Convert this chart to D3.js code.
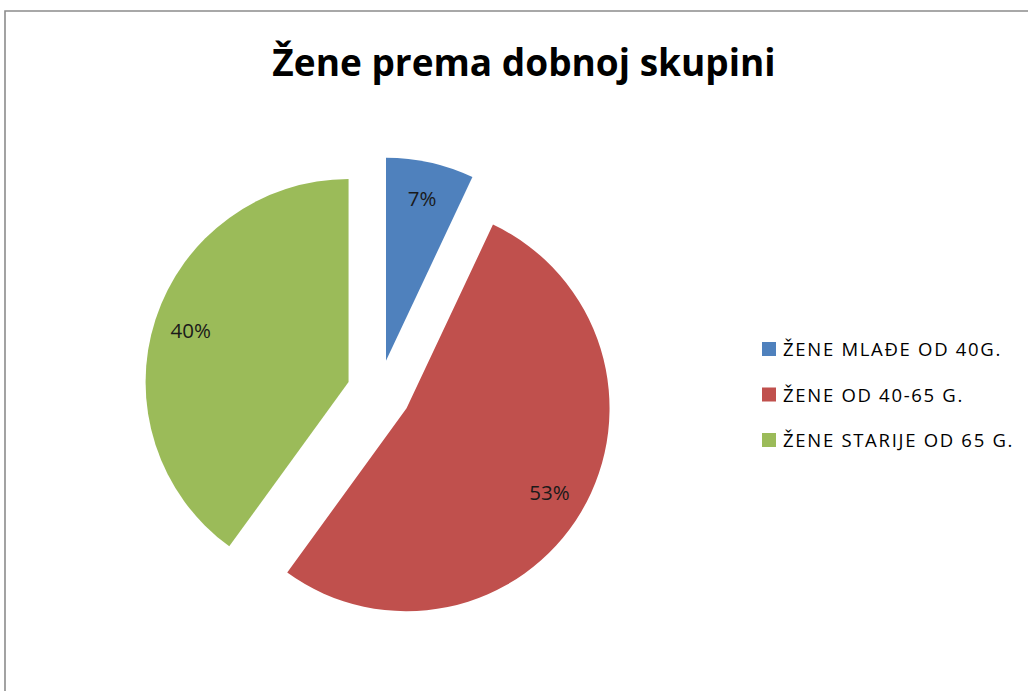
<!DOCTYPE html>
<html><head><meta charset="utf-8">
<script src="https://cdn.jsdelivr.net/npm/d3@7"></script>
<style>html,body{margin:0;padding:0;background:#fff;}svg{display:block;}</style>
</head><body>
<svg id="chart" width="1028" height="691"></svg>
<script>
const title = "Žene prema dobnoj skupini";
const categories = ["ŽENE MLAĐE OD 40G.", "ŽENE OD 40-65 G.", "ŽENE STARIJE OD 65 G."];
const values = [7, 53, 40];
const labels = ["7%", "53%", "40%"];
const colors = ["#4F81BD", "#C0504D", "#9BBB59"];

const FONT = "'Open Sans', Lato, sans-serif";
const svg = d3.select("#chart");
// frame
svg.append("path").attr("d","M5,691 V11 H1028").attr("fill","none").attr("stroke","#8c8c8c").attr("stroke-width",1.6);

svg.append("text").attr("x",524).attr("y",76).attr("text-anchor","middle")
  .attr("font-family",FONT).attr("font-weight","bold").attr("font-size",37)
  .attr("fill","#000").text(title);

const cx = 379, cy = 392, r = 203, explode = 32;
const pie = d3.pie().sort(null).value(d=>d);
const arcs = pie(values);
const arc = d3.arc().innerRadius(0).outerRadius(r);
const labelArc = d3.arc().innerRadius(166).outerRadius(166);
const g = svg.append("g").attr("transform",`translate(${cx},${cy})`);
const slices = g.selectAll("g.slice").data(arcs).enter().append("g")
  .attr("transform", d => {
    const a = (d.startAngle + d.endAngle)/2;
    return `translate(${explode*Math.sin(a)},${-explode*Math.cos(a)})`;
  });
slices.append("path").attr("d",arc).attr("fill",(d,i)=>colors[i]);
slices.append("text").attr("transform",d=>`translate(${labelArc.centroid(d)})`)
  .attr("text-anchor","middle").attr("dy","0.36em")
  .attr("font-family",FONT).attr("font-size",20.5).attr("fill","#1a1a1a")
  .text((d,i)=>labels[i]);

const legend = svg.append("g").attr("transform","translate(762,349)");
const items = legend.selectAll("g").data(categories).enter().append("g")
  .attr("transform",(d,i)=>`translate(0,${i*45.5})`);
items.append("rect").attr("x",0).attr("y",-7).attr("width",14).attr("height",14).attr("fill",(d,i)=>colors[i]);
items.append("text").attr("x",21).attr("y",7)
  .attr("font-family",FONT).attr("font-size",18.5).attr("letter-spacing",1.7).attr("fill","#000").text(d=>d);
</script>
</body></html>
